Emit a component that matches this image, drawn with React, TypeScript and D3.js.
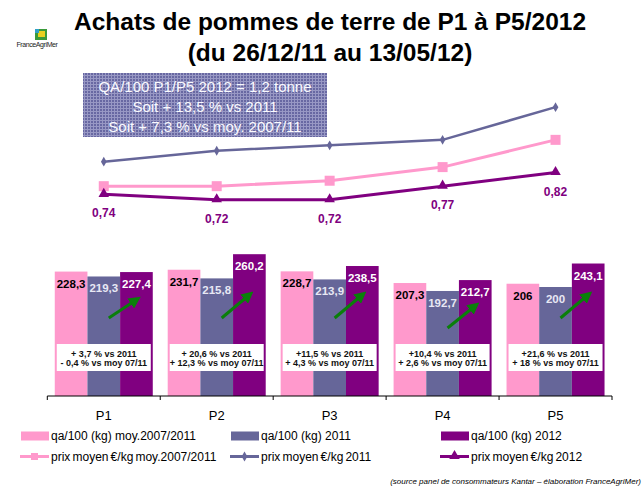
import React from "react";
import * as d3 from "d3";

const categories = ["P1", "P2", "P3", "P4", "P5"];
const qaAvg = [228.3, 231.7, 228.7, 207.3, 206];
const qa2011 = [219.3, 215.8, 213.9, 192.7, 200];
const qa2012 = [227.4, 260.2, 238.5, 212.7, 243.1];
const priceAvg = [0.77, 0.77, 0.79, 0.84, 0.94];
const price2011 = [0.86, 0.9, 0.92, 0.94, 1.06];
const price2012 = [0.74, 0.72, 0.72, 0.77, 0.82];
const noteLine1 = ["+ 3,7 % vs 2011", "+ 20,6 % vs 2011", "+11,5 % vs 2011", "+10,4 % vs 2011", "+21,6 % vs 2011"];
const noteLine2 = ["- 0,4 % vs moy 07/11", "+ 12,3 % vs moy 07/11", "+ 4,3 % vs moy 07/11", "+ 2,6 % vs moy 07/11", "+ 18 % vs moy 07/11"];
const infoLines = ["QA/100 P1/P5 2012 = 1,2 tonne", "Soit + 13,5 % vs 2011", "Soit + 7,3 % vs moy. 2007/11"];
const barSeriesNames = ["qa/100 (kg) moy.2007/2011", "qa/100 (kg) 2011", "qa/100 (kg) 2012"];
const lineSeriesNames = ["prix moyen €/kg moy.2007/2011", "prix moyen €/kg 2011", "prix moyen €/kg 2012"];

const PINK = "#FF99CC";
const BLUE = "#666699";
const PURPLE = "#800080";
const GREEN = "#0A7F0A";
const FONT = "'Liberation Sans', Arial, Helvetica, sans-serif";

const fmt = (v: number) => String(v).replace(".", ",");
const fmt2 = (v: number) => v.toFixed(2).replace(".", ",");

export default function App() {
  const W = 642, H = 486;
  const x = d3.scaleBand<string>().domain(categories).range([47.3, 612]);
  const inner = d3.scaleBand<number>().domain([0, 1, 2]).range([0, 98]);
  const groupPad = (x.bandwidth() - 98) / 2;
  const y = d3.scaleLinear().domain([0, 300]).range([396, 232.5]);
  const y2 = d3.scaleLinear().domain([0, 0.6]).range([396, 232.5]);
  const cx = (c: string) => (x(c) as number) + x.bandwidth() / 2;

  const barSeries = [
    { vals: qaAvg, color: PINK, label: "#000" },
    { vals: qa2011, color: BLUE, label: "#E8E8F4" },
    { vals: qa2012, color: PURPLE, label: "#FFFFFF" },
  ];
  const lineSeries = [
    { vals: price2011, color: BLUE, width: 2.5, marker: "diamond" },
    { vals: priceAvg, color: PINK, width: 3, marker: "square" },
    { vals: price2012, color: PURPLE, width: 3, marker: "triangle" },
  ];
  const line = (vals: number[]) =>
    d3.line<number>().x((_, i) => cx(categories[i])).y((v) => y2(v))(vals) as string;

  const marker = (kind: string, px: number, py: number, color: string, key: string) => {
    if (kind === "square") return <rect key={key} x={px - 5} y={py - 5} width={10} height={10} fill={color} />;
    if (kind === "triangle") {
      const p = d3.symbol().type(d3.symbolTriangle).size(48)() as string;
      return <path key={key} d={p} transform={`translate(${px},${py - 0.5})`} fill={color} />;
    }
    const p = d3.symbol().type(d3.symbolDiamond).size(28)() as string;
    return <path key={key} d={p} transform={`translate(${px},${py})`} fill={color} />;
  };

  const arrowStart = [318, 318, 318, 328, 318];
  const arrowEnd = [298, 293, 293, 304, 293];

  const legendX = [20, 230, 440];

  return (
    <svg width={W} height={H} style={{ position: "absolute", left: 0, top: 0, background: "#fff" }} fontFamily={FONT}>
      <defs>
        <pattern id="grid" width="3" height="3" patternUnits="userSpaceOnUse">
          <rect width="3" height="3" fill="#6868A2" />
          <rect width="3" height="1" fill="#9898C4" />
          <rect width="1" height="3" fill="#9898C4" />
        </pattern>
        <marker id="ah" viewBox="0 0 10 10" refX="6" refY="5" markerWidth="4" markerHeight="4" orient="auto">
          <path d="M0,0 L10,5 L0,10 z" fill={GREEN} />
        </marker>
      </defs>
      <rect width={W} height={H} fill="#fff" />

      {/* logo */}
      <rect x={35} y={29} width={12} height={11} fill="#3A9A3A" />
      <rect x={38} y={31} width={7} height={6} fill="#E8D020" />
      <rect x={35} y={29} width={4} height={4} fill="#30A0C8" />
      <text x={37} y={47} fontSize={7} textAnchor="middle" letterSpacing={-0.4} fill="#222">FranceAgriMer</text>

      {/* title */}
      <text x={330} y={30} fontSize={24.5} fontWeight="bold" textAnchor="middle" fill="#000">Achats de pommes de terre de P1 à P5/2012</text>
      <text x={330} y={61} fontSize={24.5} fontWeight="bold" textAnchor="middle" fill="#000">(du 26/12/11 au 13/05/12)</text>

      {/* bars */}
      {categories.map((c, ci) => (
        <g key={c} transform={`translate(${(x(c) as number) + groupPad},0)`}>
          {barSeries.map((s, si) => (
            <rect key={si} x={inner(si)} y={y(s.vals[ci])} width={inner.bandwidth()} height={y(0) - y(s.vals[ci])} fill={s.color} />
          ))}
          {barSeries.map((s, si) => (
            <text key={"t" + si} x={(inner(si) as number) + inner.bandwidth() / 2} y={y(s.vals[ci]) + 16} fontSize={11.5} fontWeight="bold" textAnchor="middle" fill={s.label}>
              {fmt(s.vals[ci])}
            </text>
          ))}
          <line x1={54} y1={arrowStart[ci]} x2={82} y2={arrowEnd[ci] + 1.5} stroke={GREEN} strokeWidth={3} markerEnd="url(#ah)" />
          <rect x={2} y={344} width={94} height={27} fill="#fff" />
          <text x={49} y={357} fontSize={9} fontWeight="bold" textAnchor="middle" fill="#111">{noteLine1[ci]}</text>
          <text x={49} y={366} fontSize={9} fontWeight="bold" textAnchor="middle" fill="#111">{noteLine2[ci]}</text>
        </g>
      ))}

      {/* axis */}
      <line x1={47.3} x2={612} y1={396} y2={396} stroke="#000" strokeWidth={1} />
      {[...categories.map((c) => x(c) as number), 612].map((t, i) => (
        <line key={i} x1={t} x2={t} y1={396} y2={400} stroke="#000" />
      ))}
      {categories.map((c) => (
        <text key={c} x={cx(c)} y={420} fontSize={13} textAnchor="middle" fill="#000">{c}</text>
      ))}

      {/* lines */}
      {lineSeries.map((s, si) => (
        <g key={si}>
          <path d={line(s.vals)} fill="none" stroke={s.color} strokeWidth={s.width} />
          {s.vals.map((v, i) => marker(s.marker, cx(categories[i]), y2(v), s.color, `${si}-${i}`))}
        </g>
      ))}
      {price2012.map((v, i) => (
        <text key={i} x={cx(categories[i])} y={y2(v) + 23} fontSize={12} fontWeight="bold" textAnchor="middle" fill={PURPLE}>{fmt2(v)}</text>
      ))}

      {/* info box */}
      <rect x={83} y={73} width={244} height={64} fill="url(#grid)" />
      {infoLines.map((t, i) => (
        <text key={i} x={205} y={92 + i * 20} fontSize={15} textAnchor="middle" fill="#FAFAFF">{t}</text>
      ))}

      {/* legend */}
      {barSeriesNames.map((n, i) => (
        <g key={n}>
          <rect x={legendX[i] + 1} y={431.5} width={28} height={9} fill={barSeries[i].color} />
          <text x={legendX[i] + 31} y={440} fontSize={12} fill="#000">{n}</text>
        </g>
      ))}
      {lineSeriesNames.map((n, i) => {
        const colors = [PINK, BLUE, PURPLE];
        const kinds = ["square", "diamond", "triangle"];
        const lx = legendX[i];
        return (
          <g key={n}>
            <line x1={lx} x2={lx + 29} y1={456.5} y2={456.5} stroke={colors[i]} strokeWidth={3} />
            {kinds[i] === "square" ? (
              <rect x={lx + 11} y={453} width={7} height={7} fill={colors[i]} />
            ) : (
              marker(kinds[i], lx + 14.5, 456.5, colors[i], "lm" + i)
            )}
            <text x={lx + 31} y={461} fontSize={12} wordSpacing={-1.2} fill="#000">{n}</text>
          </g>
        );
      })}

      <text x={641} y={484} fontSize={8} fontStyle="italic" textAnchor="end" fill="#000">(source panel de consommateurs Kantar – élaboration FranceAgriMer)</text>
    </svg>
  );
}
